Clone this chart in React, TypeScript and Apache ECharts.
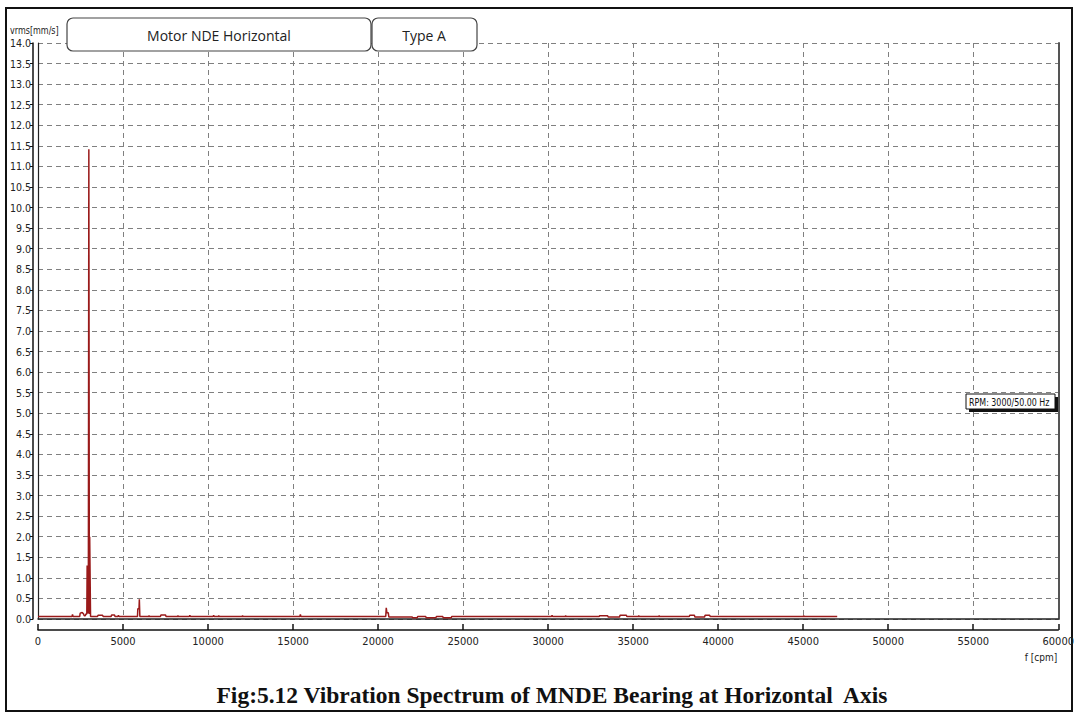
import React, { useEffect, useRef } from "react";
import * as echarts from "echarts";

// Frequency (cpm) and amplitude (mm/s rms)
const freqCpm: number[] = [
  0, 2000, 2030, 2060, 2450, 2480, 2600, 2680, 2720, 2780, 2820, 2870, 2890,
  2910, 2960, 2990, 3020, 3040, 3070, 3090, 3500, 3530, 3800, 3830, 4300, 4330,
  4500, 4530, 4700, 4730, 4760, 5850, 5870, 5940, 5960, 5990, 6500, 6530, 6560,
  7200, 7230, 7500, 7530, 8200, 8230, 8260, 8900, 8930, 8960, 10300, 10330,
  10360, 10600, 10630, 10660, 12000, 12030, 12060, 15400, 15430, 15460, 20450,
  20480, 20520, 20600, 20630, 22000, 22030, 22300, 22330, 22800, 22830, 23400,
  23430, 23800, 23830, 24300, 24330, 30200, 30230, 30260, 31000, 31030, 31060,
  33000, 33030, 33500, 33530, 34200, 34230, 34600, 34630, 35300, 35330, 35360,
  36500, 36530, 36560, 38300, 38330, 38600, 38630, 39200, 39230, 39500, 39530,
  45000, 45030, 45060, 47000,
];
const ampMms: number[] = [
  0.06, 0.06, 0.11, 0.06, 0.06, 0.14, 0.16, 0.12, 0.08, 0.08, 0.12, 0.12, 1.3,
  0.15, 0.15, 11.42, 0.12, 2.0, 2.0, 0.06, 0.06, 0.09, 0.09, 0.06, 0.06, 0.1,
  0.1, 0.06, 0.06, 0.09, 0.06, 0.06, 0.25, 0.25, 0.48, 0.06, 0.06, 0.08, 0.06,
  0.06, 0.1, 0.1, 0.06, 0.06, 0.08, 0.06, 0.06, 0.09, 0.06, 0.06, 0.09, 0.06,
  0.06, 0.08, 0.06, 0.06, 0.08, 0.06, 0.06, 0.11, 0.06, 0.06, 0.27, 0.15, 0.15,
  0.05, 0.05, 0.03, 0.03, 0.06, 0.06, 0.03, 0.03, 0.06, 0.06, 0.03, 0.03, 0.06,
  0.06, 0.09, 0.06, 0.06, 0.08, 0.06, 0.06, 0.08, 0.08, 0.05, 0.05, 0.09, 0.09,
  0.06, 0.06, 0.08, 0.06, 0.06, 0.08, 0.06, 0.06, 0.09, 0.09, 0.05, 0.05, 0.09,
  0.09, 0.06, 0.06, 0.08, 0.06, 0.06,
];

const xMin = 0;
const xMax = 60000;
const xStep = 5000;
const yMin = 0;
const yMax = 14;
const yStep = 0.5;

const yAxisTitle = "vrms[mm/s]";
const xAxisTitle = "f [cpm]";
const tagLabels: string[] = ["Motor NDE Horizontal", "Type A"];
const rpmLabel = "RPM: 3000/50.00 Hz";
const caption = "Fig:5.12 Vibration Spectrum of MNDE Bearing at Horizontal  Axis";

const narrow = "'Liberation Sans Narrow', 'DejaVu Sans Condensed', 'Liberation Sans', sans-serif";

export default function App() {
  const ref = useRef<HTMLDivElement>(null);
  useEffect(() => {
    if (!ref.current) return;
    const chart = echarts.init(ref.current, undefined, { renderer: "svg" });
    const data = freqCpm.map((f, i) => [f, ampMms[i]]);
    const dashed = { show: true, lineStyle: { color: "#808080", type: [5, 4] as any, width: 1 } };
    const bare = {
      axisLabel: { show: false },
      axisTick: { show: false },
      splitLine: { show: false },
    };
    chart.setOption({
      animation: false,
      backgroundColor: "#ffffff",
      grid: { left: 38, right: 14, top: 43, bottom: 94, containLabel: false },
      xAxis: [
        {
          type: "value",
          min: xMin,
          max: xMax,
          interval: xStep,
          position: "bottom",
          offset: 11,
          axisLine: { show: true, onZero: false, lineStyle: { color: "#111", width: 1.5 } },
          axisTick: { show: true, inside: true, length: 6, lineStyle: { color: "#111", width: 1.5 } },
          axisLabel: {
            color: "#222",
            fontSize: 11,
            fontFamily: narrow,
            margin: 6,
            formatter: (v: number) => String(v),
          },
          splitLine: dashed,
        },
        {
          type: "value",
          min: xMin,
          max: xMax,
          position: "bottom",
          offset: 0,
          axisLine: { show: true, onZero: false, lineStyle: { color: "#222", width: 1.5 } },
          ...bare,
        },
      ],
      yAxis: [
        {
          type: "value",
          min: yMin,
          max: yMax,
          interval: yStep,
          position: "left",
          offset: 5,
          axisLine: { show: true, onZero: false, lineStyle: { color: "#111", width: 1.5 } },
          axisTick: { show: true, length: 3, lineStyle: { color: "#111" } },
          axisLabel: {
            color: "#222",
            fontSize: 10.5,
            fontFamily: narrow,
            margin: 2,
            formatter: (v: number) => v.toFixed(1),
          },
          splitLine: dashed,
        },
        {
          type: "value",
          min: yMin,
          max: yMax,
          position: "left",
          offset: 0,
          axisLine: { show: true, onZero: false, lineStyle: { color: "#222", width: 1.2 } },
          ...bare,
        },
        {
          type: "value",
          min: yMin,
          max: yMax,
          position: "right",
          offset: 0,
          axisLine: { show: true, onZero: false, lineStyle: { color: "#555", width: 2 } },
          ...bare,
        },
      ],
      series: [
        {
          type: "line",
          xAxisIndex: 0,
          yAxisIndex: 0,
          data,
          showSymbol: false,
          symbol: "none",
          lineStyle: { color: "#9a1a1a", width: 1.5 },
          z: 5,
        },
      ],
      graphic: [
        {
          type: "rect",
          shape: { x: 6, y: 8, width: 1066, height: 703 },
          style: { fill: "none", stroke: "#111", lineWidth: 2 },
          silent: true,
        },
        {
          type: "text",
          x: 10,
          y: 25,
          scaleX: 0.85,
          style: { text: yAxisTitle, fill: "#222", fontSize: 10.5, fontFamily: narrow },
        },
        {
          type: "rect",
          shape: { x: 67, y: 18, width: 304, height: 33, r: 6 },
          style: { fill: "#fff", stroke: "#444", lineWidth: 1.2 },
          z: 10,
        },
        {
          type: "text",
          x: 219,
          y: 35,
          style: {
            text: tagLabels[0],
            fill: "#222",
            fontSize: 14,
            fontFamily: "'Open Sans', 'Noto Sans', sans-serif",
            align: "center",
            verticalAlign: "middle",
          },
          z: 11,
        },
        {
          type: "rect",
          shape: { x: 372, y: 18, width: 105, height: 33, r: 6 },
          style: { fill: "#fff", stroke: "#444", lineWidth: 1.2 },
          z: 10,
        },
        {
          type: "text",
          x: 424,
          y: 35,
          style: {
            text: tagLabels[1],
            fill: "#222",
            fontSize: 14,
            fontFamily: "'Open Sans', 'Noto Sans', sans-serif",
            align: "center",
            verticalAlign: "middle",
          },
          z: 11,
        },
        {
          type: "rect",
          shape: { x: 969, y: 397, width: 89, height: 15 },
          style: { fill: "#111" },
          z: 10,
        },
        {
          type: "rect",
          shape: { x: 966, y: 394, width: 89, height: 15 },
          style: { fill: "#fff", stroke: "#111", lineWidth: 1 },
          z: 11,
        },
        {
          type: "text",
          x: 969,
          y: 402,
          scaleX: 0.84,
          style: {
            text: rpmLabel,
            fill: "#111",
            fontSize: 10.5,
            fontFamily: narrow,
            align: "left",
            verticalAlign: "middle",
          },
          z: 12,
        },
        {
          type: "text",
          x: 1041,
          y: 657,
          style: {
            text: xAxisTitle,
            fill: "#222",
            fontSize: 10,
            fontFamily: narrow,
            align: "center",
            verticalAlign: "middle",
          },
        },
        {
          type: "text",
          x: 552,
          y: 695,
          style: {
            text: caption,
            fill: "#111",
            fontSize: 23.5,
            fontWeight: "bold",
            fontFamily: "'Liberation Serif', 'DejaVu Serif', serif",
            align: "center",
            verticalAlign: "middle",
          },
        },
      ],
    });
    return () => chart.dispose();
  }, []);
  return (
    <div
      ref={ref}
      style={{ position: "fixed", left: 0, top: 0, width: 1077, height: 713, background: "#fff" }}
    />
  );
}
